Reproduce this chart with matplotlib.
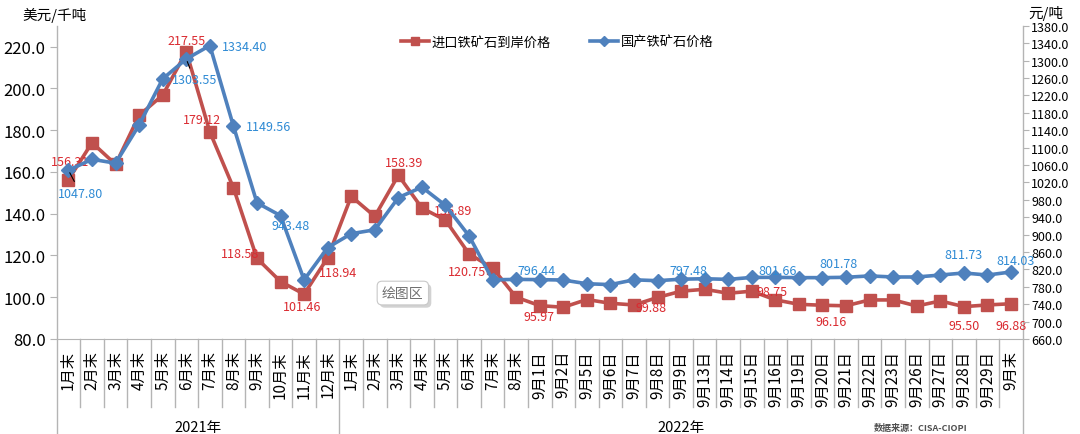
import matplotlib
matplotlib.use("Agg")
import matplotlib.pyplot as plt
import matplotlib.transforms as mtransforms
import matplotlib.patheffects as pe
from matplotlib.lines import Line2D

plt.rcParams['font.family'] = ['Noto Sans CJK SC', 'DejaVu Sans']

# -----------------------------
# 1. Data
# -----------------------------
cats_2021 = ["1月末", "2月末", "3月末", "4月末", "5月末", "6月末",
             "7月末", "8月末", "9月末", "10月末", "11月末", "12月末"]
cats_2022 = ["1月末", "2月末", "3月末", "4月末", "5月末", "6月末", "7月末", "8月末",
             "9月1日", "9月2日", "9月5日", "9月6日", "9月7日", "9月8日", "9月9日",
             "9月13日", "9月14日", "9月15日", "9月16日", "9月19日", "9月20日",
             "9月21日", "9月22日", "9月23日", "9月26日", "9月27日", "9月28日",
             "9月29日", "9月末"]
years = ["2021年", "2022年"]

# imported ore CIF price, USD/t (left axis)
import_price = [156.31, 174.0, 163.6, 187.1, 196.8, 217.55, 179.12, 152.4, 118.58, 107.5,
                101.46, 118.94,
                148.3, 138.7, 158.39, 142.7, 136.89, 120.75, 114.0, 100.0,
                95.97, 95.2, 98.9, 97.1, 96.3, 99.88, 102.9, 103.8, 101.9, 102.9,
                98.75, 96.6, 96.16, 95.9, 98.7, 98.7, 95.8, 98.2, 95.50, 96.3, 96.88]

# domestic ore price, CNY/t (right axis)
domestic_price = [1047.80, 1073, 1064, 1152, 1258, 1303.55, 1334.40, 1149.56, 973, 943.48,
                  796, 870,
                  902, 911, 985, 1009, 967, 897, 796, 797,
                  796.44, 795.5, 787, 785, 796, 794, 797.48, 798.5, 797, 801.5,
                  801.66, 801, 801, 801.78, 805, 802.5, 802.5, 807, 811.73, 807, 814.03]

# which points carry a value label, and where the label sits (pixel offset)
import_labels = {0: (2, 18), 5: (0, 11), 6: (-8, 12), 8: (-17, 5), 10: (-2, -12),
                 11: (10, -15), 14: (6, 13), 16: (8, 10), 17: (-2, -18), 20: (-1, -11),
                 25: (-6, -10), 30: (-3, 8), 32: (9, -16), 38: (0, -19), 40: (0, -22)}
domestic_labels = {0: (12, -23), 5: (8, -21), 6: (35, -1), 7: (35, -1), 9: (10, -10),
                   20: (-3, 9), 26: (7, 9), 30: (2, 7), 33: (-8, 14), 38: (0, 18),
                   40: (5, 11)}
leader_import = [0]
leader_domestic = [0, 5]

RED = "#C0504D"
BLUE = "#4F81BD"
RED_TXT = "#DA2A30"
BLUE_TXT = "#2E8AD4"
GRID = "#B4B4B4"

categories = cats_2021 + cats_2022
x = list(range(len(categories)))

# -----------------------------
# 2. Figure and axes
# -----------------------------
fig = plt.figure(figsize=(10.8, 4.35), dpi=100)
ax = fig.add_axes([0.0525, 0.2184, 0.8945, 0.7202])
ax2 = ax.twinx()

ax.plot(x, import_price, color=RED, lw=2.6, marker="s", markersize=9,
        markerfacecolor=RED, markeredgecolor=RED, zorder=3)
ax2.plot(x, domestic_price, color=BLUE, lw=2.6, marker="D", markersize=7,
         markerfacecolor=BLUE, markeredgecolor=BLUE, zorder=3)

ax.set_xlim(-0.5, len(categories) - 0.5)
ax.set_ylim(80, 230)
ax2.set_ylim(660, 1380)
ax.set_yticks(range(80, 221, 20))
ax.set_yticklabels([f"{v:.1f}" for v in range(80, 221, 20)], fontsize=12)
ax2.set_yticks(range(660, 1381, 40))
ax2.set_yticklabels([f"{v:.1f}" for v in range(660, 1381, 40)], fontsize=9)

ax.set_xticks(x)
ax.set_xticklabels(categories, rotation=90, fontsize=11)
ax.tick_params(axis="x", length=0, pad=8)
ax.tick_params(axis="y", length=5, color=GRID, pad=3)
ax2.tick_params(axis="y", length=4, color=GRID, pad=2)

for a in (ax, ax2):
    for s in a.spines.values():
        s.set_visible(False)
ax.spines["bottom"].set_visible(True)
ax.spines["bottom"].set_color(GRID)

# axis lines + category separators in the label area
trans = mtransforms.blended_transform_factory(ax.transData, ax.transAxes)
bottom_long = -95 / 313.3
bottom_short = -68 / 313.3
ax.plot([-0.5, -0.5], [1, bottom_long], color=GRID, lw=1, transform=trans, clip_on=False)
ax.plot([x[-1] + 0.5] * 2, [1, bottom_long], color=GRID, lw=1, transform=trans, clip_on=False)
ax.plot([len(cats_2021) - 0.5] * 2, [0, bottom_long], color=GRID, lw=1, transform=trans,
        clip_on=False)
for i in x[1:]:
    if i != len(cats_2021):
        ax.plot([i - 0.5, i - 0.5], [0, bottom_short], color=GRID, lw=1, transform=trans,
                clip_on=False)

# year group labels
ax.text((len(cats_2021) - 1) / 2, -88 / 313.3, years[0], transform=trans, ha="center",
        va="center", fontsize=10.5)
ax.text((len(cats_2021) + len(categories) - 1) / 2, -88 / 313.3, years[1], transform=trans,
        ha="center", va="center", fontsize=10.5)

# -----------------------------
# 3. Value labels
# -----------------------------
for i, (dx, dy) in import_labels.items():
    arrow = dict(arrowstyle="-", color="black", lw=0.8) if i in leader_import else None
    ax.annotate(f"{import_price[i]:.2f}", (x[i], import_price[i]), xytext=(dx, dy),
                textcoords="offset pixels", ha="center", va="center", fontsize=9,
                color=RED_TXT, arrowprops=arrow, zorder=5)
for i, (dx, dy) in domestic_labels.items():
    arrow = dict(arrowstyle="-", color="black", lw=0.8) if i in leader_domestic else None
    ax2.annotate(f"{domestic_price[i]:.2f}", (x[i], domestic_price[i]), xytext=(dx, dy),
                 textcoords="offset pixels", ha="center", va="center", fontsize=9,
                 color=BLUE_TXT, arrowprops=arrow, zorder=5)

# -----------------------------
# 4. Legend, units, notes
# -----------------------------
handles = [Line2D([], [], color=RED, lw=2.6, marker="s", markersize=6),
           Line2D([], [], color=BLUE, lw=2.6, marker="D", markersize=5)]
fig.legend(handles, ["进口铁矿石到岸价格", "国产铁矿石价格"], loc="center",
           bbox_to_anchor=(0.516, 0.901), ncol=2, frameon=False, fontsize=9.5,
           handlelength=2.1, handletextpad=0.2, columnspacing=3.0)

fig.text(0.021, 0.965, "美元/千吨", fontsize=10.5, ha="left", va="center")
fig.text(0.952, 0.968, "元/吨", fontsize=10.5, ha="left", va="center")
fig.text(0.809, 0.016, "数据来源：CISA-CIOPI", fontsize=6.5, color="#505050",
         fontweight="bold", ha="left", va="center")

tip = fig.text(0.373, 0.324, "绘图区", fontsize=10, color="#707070", ha="center",
               va="center", bbox=dict(boxstyle="round,pad=0.35", fc="white", ec="#C8C8C8",
                                      lw=0.8))
tip.get_bbox_patch().set_path_effects([pe.withSimplePatchShadow(offset=(2, -2), alpha=0.25)])

fig.savefig("out.png", dpi=100)
